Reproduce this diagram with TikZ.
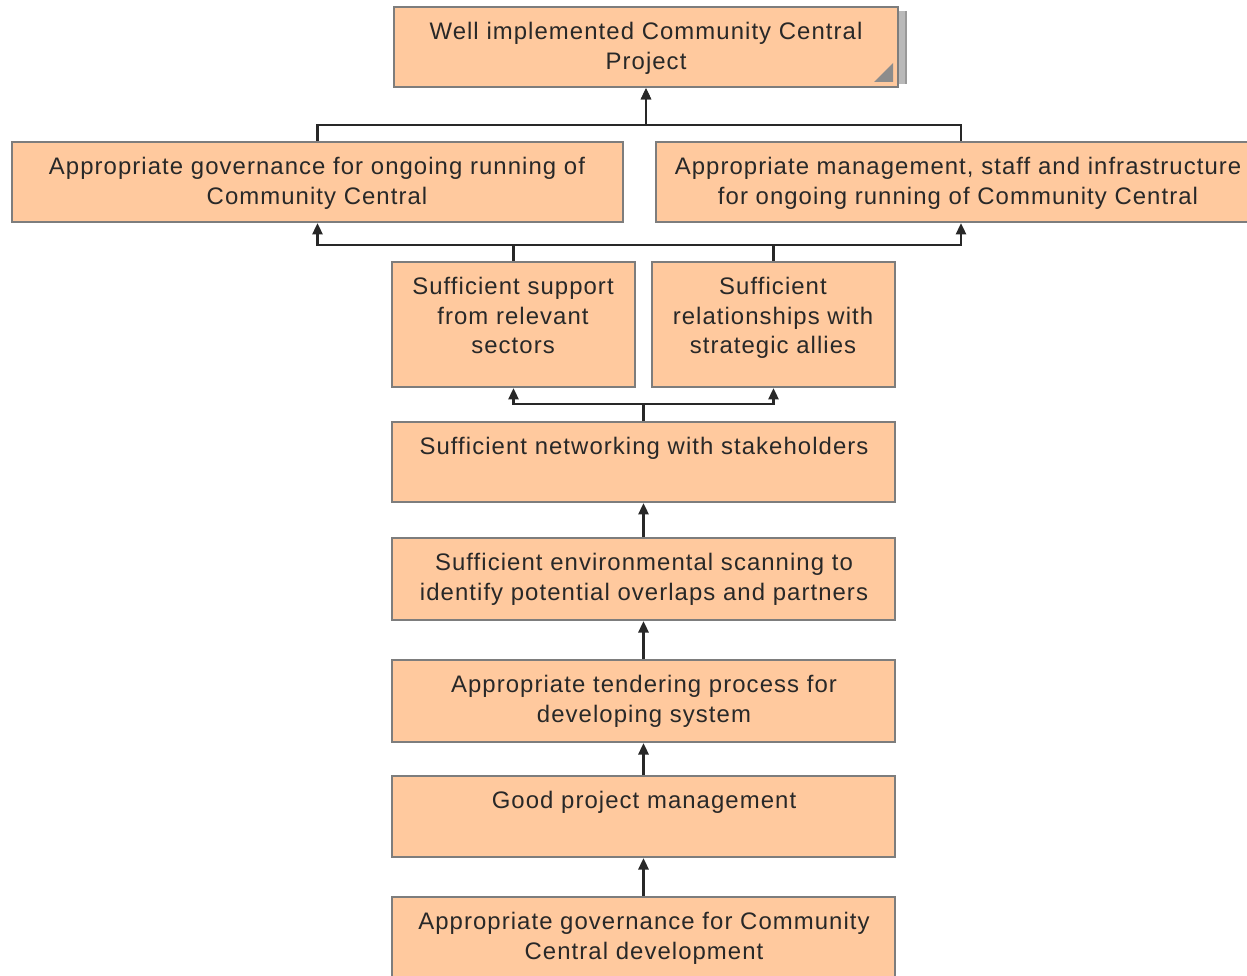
\documentclass[tikz,border=0pt]{standalone}
\usepackage{fontspec}
\setmainfont{Liberation Sans}[LetterSpace=4.5]
\usetikzlibrary{arrows.meta,calc}
\definecolor{boxfill}{RGB}{255,201,158}
\definecolor{boxline}{RGB}{125,125,125}
\definecolor{conline}{RGB}{40,40,40}
\definecolor{txt}{RGB}{40,40,40}
\tikzset{
  goalbox/.style={draw=boxline, fill=boxfill, line width=0.04cm, inner sep=0pt},
  goaltext/.style={anchor=north, inner sep=0pt, align=center, text=txt,
     font=\fontsize{13.6pt}{16.8pt}\selectfont},
  conn/.style={draw=conline, line width=0.055cm},
  arr/.style={conn, -{Triangle[length=0.23cm,width=0.2cm]}}
}
\newcommand{\gbox}[5]{% name, x1, y1, x2, y2
  \node[goalbox, minimum width={(#4-#2)*0.02cm}, minimum height={(#5-#3)*0.02cm}] (#1) at ({(#2+#4)/2},{(#3+#5)/2}) {};
}
\begin{document}
\begin{tikzpicture}[x=0.02cm,y=-0.02cm]
\clip (0,0) rectangle (1247,976);
\fill[white] (0,0) rectangle (1247,976);
% top box shadow
\fill[gray!55] (896,11) rectangle (906,84);
\draw[gray!80, line width=0.03cm] (906,11) -- (906,84);
\gbox{top}{394}{7}{898}{87}
\fill[gray!90] (874,82) -- (893,82) -- (893,63) -- cycle;
\gbox{gov}{12}{142}{623}{222}
\gbox{mgmt}{656}{142}{1266}{222}
\gbox{supp}{392}{262}{635}{387}
\gbox{rel}{652}{262}{895}{387}
\gbox{net}{392}{422}{895}{502}
\gbox{env}{392}{538}{895}{620}
\gbox{tend}{392}{660}{895}{742}
\gbox{pm}{392}{776}{895}{857}
\gbox{govdev}{392}{897}{895}{990}

\node[goaltext] (topt) at (646,22) {Well implemented Community Central\\Project};
\node[goaltext] (govt) at (317,157) {Appropriate governance for ongoing running of\\Community Central};
\node[goaltext] (mgmtt) at (958,157) {Appropriate management, staff and infrastructure\\for ongoing running of Community Central};
\node[goaltext] (suppt) at (513,277) {Sufficient support\\from relevant\\sectors};
\node[goaltext] (relt) at (773,277) {Sufficient\\relationships with\\strategic allies};
\node[goaltext] (nett) at (644,437) {Sufficient networking with stakeholders};
\node[goaltext] (envt) at (644,553) {Sufficient environmental scanning to\\identify potential overlaps and partners};
\node[goaltext] (tendt) at (644,675) {Appropriate tendering process for\\developing system};
\node[goaltext] (pmt) at (644,791) {Good project management};
\node[goaltext] (govdevt) at (644,912) {Appropriate governance for Community\\Central development};

% connectors
\draw[arr] (gov.north) -- ++(0,-16) -| (top.south);
\draw[arr] (mgmt.north) -- ++(0,-16) -| (top.south);
\coordinate (b2) at (646,245);
\draw[arr] (supp.north) -- (supp.north |- b2) -| (gov.south);
\draw[arr] (rel.north) -- (rel.north |- b2) -| (mgmt.south);
\draw[conn] (supp.north |- b2) -- (rel.north |- b2);
\draw[arr] (net.north) -- ++(0,-17) -| (supp.south);
\draw[arr] (net.north) -- ++(0,-17) -| (rel.south);
\draw[arr] (env.north) -- (net.south);
\draw[arr] (tend.north) -- (env.south);
\draw[arr] (pm.north) -- (tend.south);
\draw[arr] (govdev.north) -- (pm.south);
\end{tikzpicture}
\end{document}
